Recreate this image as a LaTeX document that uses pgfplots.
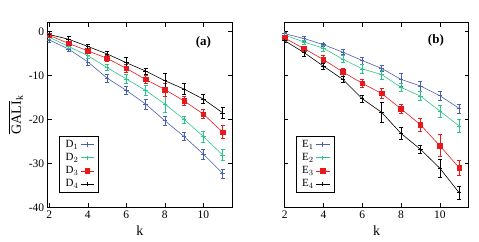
\documentclass[border=0pt]{standalone}
\usepackage{fontspec}
\setmainfont{Liberation Serif}
\usepackage{amsmath}
\usepackage{pgfplots}
\pgfplotsset{compat=1.18}
\definecolor{cblue}{HTML}{4A5FB0}
\definecolor{cgreen}{HTML}{2EC48A}
\definecolor{cred}{HTML}{E41A1C}
\pgfplotsset{
  galistyle/.style={
    scale only axis, width=184.6pt, height=184.6pt,
    xmin=1.92, xmax=11.5, ymin=-40, ymax=2,
    xtick={2,4,6,8,10}, xticklabels={2,4,6,8,10},
    ytick={-40,-30,-20,-10,0},
    tick align=inside, major tick length=4pt,
    axis line style={line width=1pt},
    tick style={black, line width=0.5pt},
    font=\fontsize{11.5}{13}\selectfont,
    xlabel style={at={(0.5,0)}, anchor=north, yshift=-15pt, font=\fontsize{14}{16}\selectfont},
    legend style={at={(0.063,0.079)}, anchor=south west, draw=black, line width=0.5pt,
      font=\fontsize{11}{13}\selectfont, row sep=0.5pt, inner xsep=4pt, inner ysep=2pt,
      /tikz/every even column/.append style={column sep=6pt}},
    legend image code/.code={\draw[mark repeat=2,mark phase=2] plot coordinates {(0cm,0cm) (0.24cm,0cm) (0.48cm,0cm)};},
    legend cell align=left, legend plot pos=right,
    every axis plot/.append style={line width=0.6pt, mark size=2.2pt},
    error bars/error bar style={line width=0.6pt},
    error bars/error mark options={rotate=90, mark size=2pt, line width=0.6pt},
  }
}
\begin{document}
\begin{tikzpicture}
\path[use as bounding box] (0pt,0pt) rectangle (479pt,241pt);
\begin{axis}[galistyle, at={(47.7pt,33.7pt)}, anchor=south west,
  yticklabels={-40,-30,-20,-10,0},
  xlabel={k},
  ylabel={$\overline{\text{GALI}}_{\text{k}}$}, ylabel style={yshift=-1pt, font=\fontsize{14}{16}\selectfont}]
\addplot[cblue, mark=+, error bars/.cd, y dir=both, y explicit] coordinates {
 (2,-1.9) +- (0,0.5) (3,-4.0) +- (0,0.6) (4,-6.9) +- (0,0.7) (5,-10.6) +- (0,0.9)
 (6,-13.4) +- (0,0.9) (7,-16.5) +- (0,1.1) (8,-20.3) +- (0,1.1) (9,-23.9) +- (0,0.9)
 (10,-27.9) +- (0,1.2) (11,-32.3) +- (0,1.0)};
\addlegendentry{D$_1$}
\addplot[cgreen, mark=+, error bars/.cd, y dir=both, y explicit] coordinates {
 (2,-1.3) +- (0,0.5) (3,-3.4) +- (0,0.5) (4,-5.5) +- (0,0.6) (5,-8.2) +- (0,0.7)
 (6,-10.8) +- (0,1.0) (7,-13.4) +- (0,1.2) (8,-16.5) +- (0,1.8) (9,-20.0) +- (0,0.8)
 (10,-23.9) +- (0,1.2) (11,-28.1) +- (0,1.2)};
\addlegendentry{D$_2$}
\addplot[cred, mark=square*, mark size=2.3pt, error bars/.cd, y dir=both, y explicit] coordinates {
 (2,-0.9) +- (0,0.4) (3,-2.7) +- (0,0.5) (4,-4.4) +- (0,0.5) (5,-6.1) +- (0,0.6)
 (6,-8.4) +- (0,0.9) (7,-10.9) +- (0,0.9) (8,-13.2) +- (0,1.5) (9,-15.8) +- (0,1.0)
 (10,-18.8) +- (0,1.0) (11,-22.9) +- (0,1.5)};
\addlegendentry{D$_3$}
\addplot[black, mark=+, error bars/.cd, y dir=both, y explicit] coordinates {
 (2,-0.7) +- (0,0.4) (3,-1.75) +- (0,0.7) (4,-3.4) +- (0,0.4) (5,-5.1) +- (0,0.6)
 (6,-7.1) +- (0,1.2) (7,-9.0) +- (0,0.7) (8,-11.2) +- (0,1.6) (9,-13.1) +- (0,1.3)
 (10,-15.4) +- (0,1.0) (11,-18.5) +- (0,1.2)};
\addlegendentry{D$_4$}
\node[font=\fontsize{13}{15}\selectfont\bfseries] at (axis cs:10.0,-2.4) {(a)};
\end{axis}
\begin{axis}[galistyle, at={(284.3pt,33.7pt)}, anchor=south west, xmin=1.98,
  yticklabels={},
  xlabel={k}]
\addplot[cblue, mark=+, error bars/.cd, y dir=both, y explicit] coordinates {
 (2,-0.5) +- (0,0.4) (3,-1.6) +- (0,0.6) (4,-3.0) +- (0,0.4) (5,-4.7) +- (0,0.6)
 (6,-6.6) +- (0,0.8) (7,-8.4) +- (0,0.6) (8,-10.9) +- (0,1.5) (9,-12.4) +- (0,1.1)
 (10,-14.6) +- (0,1.0) (11,-17.5) +- (0,1.0)};
\addlegendentry{E$_1$}
\addplot[cgreen, mark=+, error bars/.cd, y dir=both, y explicit] coordinates {
 (2,-0.8) +- (0,0.4) (3,-2.4) +- (0,0.5) (4,-3.8) +- (0,0.6) (5,-6.3) +- (0,0.8)
 (6,-8.5) +- (0,1.0) (7,-9.8) +- (0,1.0) (8,-12.7) +- (0,0.9) (9,-14.7) +- (0,1.0)
 (10,-18.1) +- (0,1.4) (11,-21.5) +- (0,1.5)};
\addlegendentry{E$_2$}
\addplot[cred, mark=square*, mark size=2.3pt, error bars/.cd, y dir=both, y explicit] coordinates {
 (2,-1.5) +- (0,0.5) (3,-3.9) +- (0,0.6) (4,-6.4) +- (0,0.9) (5,-9.2) +- (0,0.9)
 (6,-11.8) +- (0,0.9) (7,-14.1) +- (0,1.2) (8,-17.6) +- (0,1.0) (9,-21.2) +- (0,1.5)
 (10,-26.0) +- (0,2.5) (11,-31.0) +- (0,1.8)};
\addlegendentry{E$_3$}
\addplot[black, mark=+, error bars/.cd, y dir=both, y explicit] coordinates {
 (2,-2.1) +- (0,0.4) (3,-4.8) +- (0,0.8) (4,-7.9) +- (0,0.7) (5,-10.9) +- (0,0.6)
 (6,-15.3) +- (0,0.8) (7,-18.4) +- (0,2.2) (8,-23.2) +- (0,1.3) (9,-26.8) +- (0,0.8)
 (10,-31.1) +- (0,2.0) (11,-36.7) +- (0,1.4)};
\addlegendentry{E$_4$}
\node[font=\fontsize{13}{15}\selectfont\bfseries] at (axis cs:9.8,-2.0) {(b)};
\end{axis}
\end{tikzpicture}
\end{document}
